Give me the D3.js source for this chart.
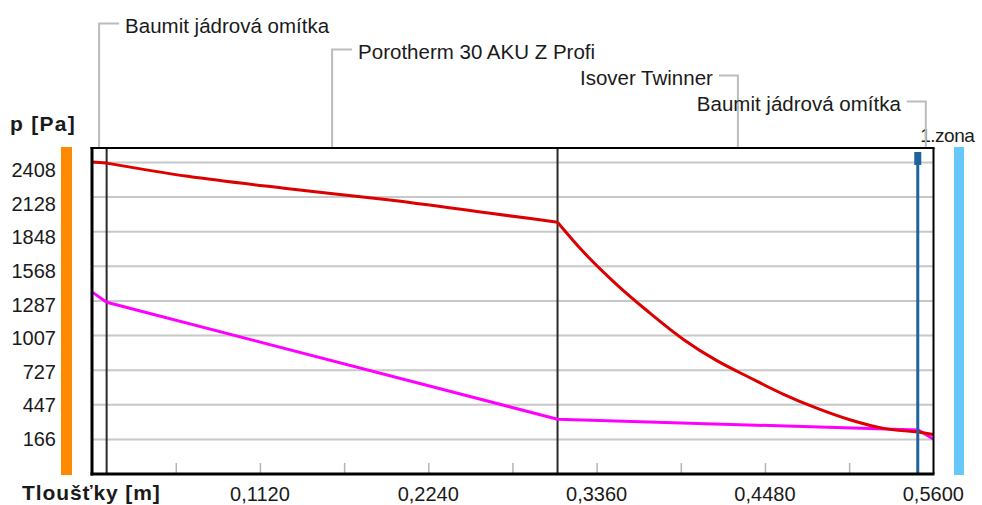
<!DOCTYPE html>
<html><head><meta charset="utf-8">
<script src="https://cdn.jsdelivr.net/npm/d3@7"></script>
<style>
html,body{margin:0;padding:0;background:#fff;}
svg{display:block;}
text{font-family:"Liberation Sans",Arial,sans-serif;fill:#1a1a1a;}
</style></head>
<body>
<svg id="chart" width="982" height="505"></svg>
<script>
// ---- data ----
const layerNames = ["Baumit jádrová omítka", "Porotherm 30 AKU Z Profi", "Isover Twinner", "Baumit jádrová omítka"];
const layerThickness = [0.01, 0.30, 0.24, 0.01];
const yTicks = [2408, 2128, 1848, 1568, 1287, 1007, 727, 447, 166];
const xTicks = [0.1120, 0.2240, 0.3360, 0.4480, 0.5600];
const xMinorTicks = [0.056, 0.112, 0.168, 0.224, 0.280, 0.336, 0.392, 0.448, 0.504];
// saturated vapour pressure (red)
const pSatX = [0, 0.01, 0.064, 0.131, 0.197, 0.264, 0.31, 0.327, 0.349, 0.371, 0.394, 0.416, 0.438, 0.460, 0.482, 0.505, 0.527, 0.55, 0.56];
const pSat  = [2408, 2399, 2292, 2192, 2102, 1995, 1921, 1683, 1420, 1190, 970, 800, 662, 530, 418, 320, 252, 223, 202];
// partial vapour pressure (magenta)
const pX   = [0, 0.01, 0.31, 0.55, 0.56];
const pVal = [1359, 1273, 326, 239, 166];
// condensation zone
const zoneNames = ["1.zona"];
const zoneX = [0.55];
const yLabel = "p [Pa]";
const xLabel = "Tloušťky [m]";

// ---- layout ----
const svg = d3.select("#chart");
const L = 92, R = 933.5, T = 148, B = 474;
const x = d3.scaleLinear().domain([0, 0.56]).range([91.6, 933.3]);
const y = d3.scaleLinear().domain([166, 2408]).range([439, 162]);
const yLab = d3.scaleLinear().domain([166, 2408]).range([439, 170]);

// side bars
svg.append("rect").attr("x", 61).attr("y", 147).attr("width", 11).attr("height", 328).attr("fill", "#ff8a00");
svg.append("rect").attr("x", 954).attr("y", 147).attr("width", 10).attr("height", 328).attr("fill", "#66c8fa");

// gridlines
svg.append("g").attr("transform", `translate(${L},0)`)
  .call(d3.axisLeft(y).tickValues(yTicks).tickSize(-(R - L)).tickFormat(""))
  .call(g => g.select(".domain").remove())
  .call(g => g.selectAll("line").attr("stroke", "#c8c8c8").attr("stroke-width", 2));

// minor x ticks (inside, upward)
svg.append("g").attr("transform", `translate(0,${B})`)
  .call(d3.axisBottom(x).tickValues(xMinorTicks).tickSize(-11).tickFormat(""))
  .call(g => g.select(".domain").remove())
  .call(g => g.selectAll("line").attr("stroke", "#b4b4b4").attr("stroke-width", 1.5));

// layer boundaries
const bounds = Array.from(d3.cumsum(layerThickness)).map(v => +v.toFixed(6));
const starts = [0, ...bounds.slice(0, -1)];
const inner = bounds.slice(0, -2); // 0.01, 0.31 (0.55 drawn as zone line)
svg.append("g").selectAll("line").data(inner).join("line")
  .attr("x1", d => x(d)).attr("x2", d => x(d))
  .attr("y1", T).attr("y2", B)
  .attr("stroke", "#2a2a2a").attr("stroke-width", 2);

// curves: smooth inside each layer, kinks at layer boundaries
function segments(xs, vs) {
  const pts = xs.map((v, i) => [v, vs[i]]);
  return starts.map((s, i) => pts.filter(p => p[0] >= s - 1e-9 && p[0] <= bounds[i] + 1e-9))
               .filter(seg => seg.length > 1);
}
const line = d3.line().x(d => x(d[0])).y(d => y(d[1])).curve(d3.curveMonotoneX);
function drawSeries(xs, vs, color) {
  const d = segments(xs, vs).map(seg => line(seg)).join("");
  svg.append("path").attr("d", d).attr("fill", "none").attr("stroke", color)
    .attr("stroke-width", 3).attr("stroke-linejoin", "round");
}
drawSeries(pX, pVal, "#ff00ff");
drawSeries(pSatX, pSat, "#dc0000");

// zone line
const zg = svg.append("g");
zg.selectAll("line").data(zoneX).join("line")
  .attr("x1", d => x(d) - 0.5).attr("x2", d => x(d) - 0.5)
  .attr("y1", 152).attr("y2", B)
  .attr("stroke", "#1f62a0").attr("stroke-width", 3);
zg.selectAll("rect").data(zoneX).join("rect")
  .attr("x", d => x(d) - 4).attr("y", 152).attr("width", 7).attr("height", 13)
  .attr("fill", "#1f62a0");
zg.selectAll("text").data(zoneX).join("text")
  .attr("x", d => x(d) + 2).attr("y", 142)
  .attr("font-size", 19).attr("letter-spacing", -0.5)
  .text((d, i) => zoneNames[i]);

// frame
svg.append("line").attr("x1", L - 1.5).attr("x2", R + 1).attr("y1", T).attr("y2", T).attr("stroke", "#000").attr("stroke-width", 2);
svg.append("line").attr("x1", R).attr("x2", R).attr("y1", T).attr("y2", B).attr("stroke", "#000").attr("stroke-width", 2);
svg.append("line").attr("x1", L).attr("x2", L).attr("y1", T - 1).attr("y2", B + 1.5).attr("stroke", "#000").attr("stroke-width", 3);
svg.append("line").attr("x1", L - 1.5).attr("x2", R + 1).attr("y1", B).attr("y2", B).attr("stroke", "#000").attr("stroke-width", 3);

// y tick labels
svg.append("g").selectAll("text").data(yTicks).join("text")
  .attr("x", 56).attr("y", d => yLab(d)).attr("dy", "0.36em")
  .attr("text-anchor", "end").attr("font-size", 20)
  .text(d => d);

// x tick labels
const fmt = d3.format(".4f");
svg.append("g").selectAll("text").data(xTicks).join("text")
  .attr("x", d => x(d)).attr("y", 500.5)
  .attr("text-anchor", "middle").attr("font-size", 20)
  .text(d => fmt(d).replace(".", ","));

// axis titles
svg.append("text").attr("x", 10).attr("y", 131).attr("font-size", 21).attr("font-weight", "bold")
  .attr("letter-spacing", 1.3).attr("fill", "#000").text(yLabel);
svg.append("text").attr("x", 22).attr("y", 500).attr("font-size", 21).attr("font-weight", "bold")
  .attr("letter-spacing", 0.9).attr("fill", "#000").text(xLabel);

// layer leader labels
const rowY = [23.5, 49.5, 75.5, 101.5];
const lg = svg.append("g");
layerNames.forEach((name, i) => {
  const mx = x(starts[i] + layerThickness[i] / 2);
  const left = i < 2;
  const hx = left ? mx + 20 : mx - 19;
  lg.append("polyline")
    .attr("points", `${mx},${T - 1} ${mx},${rowY[i]} ${hx},${rowY[i]}`)
    .attr("fill", "none").attr("stroke", "#bcbcbc").attr("stroke-width", 2);
  lg.append("text")
    .attr("x", left ? hx + 6 : hx - 6).attr("y", rowY[i] + 9)
    .attr("text-anchor", left ? "start" : "end")
    .attr("font-size", 20.5)
    .text(name);
});
</script>
</body></html>
